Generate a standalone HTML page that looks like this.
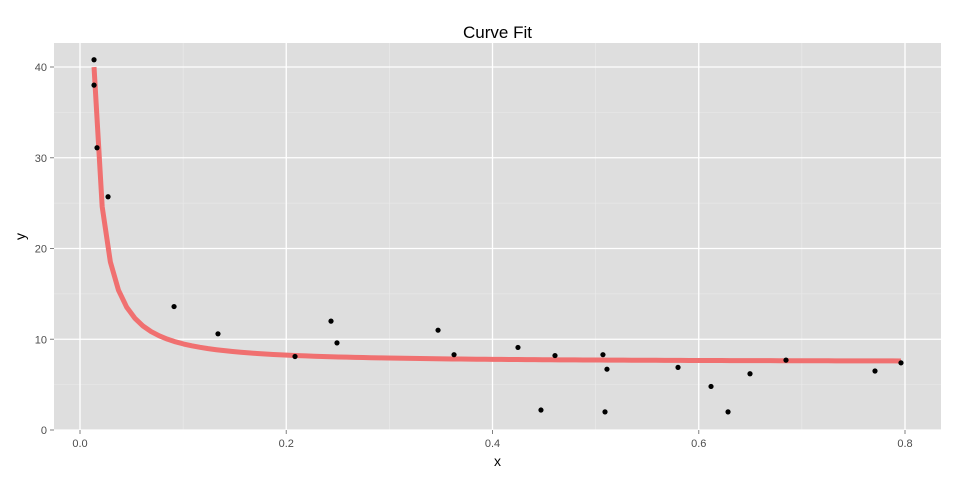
<!DOCTYPE html>
<html><head><meta charset="utf-8"><style>
html,body{margin:0;padding:0;background:#fff;width:960px;height:480px;overflow:hidden}
text{font-family:"Liberation Sans",sans-serif}
</style></head><body>
<svg id="chart" width="960" height="480"></svg>
<script>
const xs=[0.0136,0.0136,0.0165,0.0272,0.0912,0.1338,0.2085,0.2434,0.2492,0.3472,0.3627,0.4247,0.4470,0.4606,0.5071,0.5110,0.5091,0.5799,0.6119,0.6284,0.6497,0.6846,0.7709,0.7961];
const ys=[40.8,38.0,31.1,25.7,13.6,10.6,8.1,12.0,9.6,11.0,8.3,9.1,2.2,8.2,8.3,6.7,2.0,6.9,4.8,2.0,6.2,7.7,6.5,7.4];
const fitParams=[7.5,0.0792,1.4];
const xTicks=[0,0.2,0.4,0.6,0.8];
const xTickLabels=["0.0","0.2","0.4","0.6","0.8"];
const yTicks=[0,10,20,30,40];
const yTickLabels=["0","10","20","30","40"];
const xMinor=[0.1,0.3,0.5,0.7];
const yMinor=[5,15,25,35];

const NS="http://www.w3.org/2000/svg";
const svg=document.getElementById('chart');
const L=54,R=941,T=43,B=430;
const sx=v=>80+v*(905-80)/0.8;
const sy=v=>430-v*(430-67)/40;
function mk(tag,attrs,parent){const e=document.createElementNS(NS,tag);for(const k in attrs)e.setAttribute(k,attrs[k]);(parent||svg).appendChild(e);return e;}

const panel=mk('rect',{x:L,y:T,width:R-L,height:B-T,fill:'#dedede'});



const grid=mk('g',{});


xMinor.forEach(v=>mk('line',{x1:sx(v),x2:sx(v),y1:T,y2:B,stroke:'#ebebeb','stroke-width':0.6},grid));
yMinor.forEach(v=>mk('line',{x1:L,x2:R,y1:sy(v),y2:sy(v),stroke:'#ebebeb','stroke-width':0.6},grid));
xTicks.forEach(v=>mk('line',{x1:sx(v),x2:sx(v),y1:T,y2:B,stroke:'#fff','stroke-width':1.3},grid));
yTicks.forEach(v=>mk('line',{x1:L,x2:R,y1:sy(v),y2:sy(v),stroke:'#fff','stroke-width':1.3},grid));

const xAxis=mk('g',{});


xTicks.forEach((v,i)=>{
  mk('line',{x1:sx(v),x2:sx(v),y1:B,y2:B+4,stroke:'#7f7f7f','stroke-width':1},xAxis);
  const t=mk('text',{x:sx(v),y:B+17,'text-anchor':'middle','font-size':11,fill:'#4d4d4d'},xAxis);
  t.textContent=xTickLabels[i];
  
  
});
const yAxis=mk('g',{});


yTicks.forEach((v,i)=>{
  mk('line',{x1:L-4,x2:L,y1:sy(v),y2:sy(v),stroke:'#7f7f7f','stroke-width':1},yAxis);
  const t=mk('text',{x:L-7,y:sy(v)+4,'text-anchor':'end','font-size':11,fill:'#4d4d4d'},yAxis);
  t.textContent=yTickLabels[i];
  
  
});

const curve=[];
const x0=Math.min(...xs),x1=Math.max(...xs);
for(let i=0;i<100;i++){const x=x0+(x1-x0)*i/99;const y=fitParams[0]+fitParams[1]*Math.pow(x,-fitParams[2]);curve.push(sx(x).toFixed(2)+','+sy(y).toFixed(2));}
const line=mk('polyline',{points:curve.join(' '),fill:'none',stroke:'#f07070','stroke-width':5,'stroke-linejoin':'round'});



const pts=mk('g',{});


xs.forEach((x,i)=>{
  const c=mk('circle',{cx:sx(x),cy:sy(ys[i]),r:2.6,fill:'#000'},pts);
  
  
});

const title=mk('text',{x:(L+R)/2,y:38,'text-anchor':'middle','font-size':17,fill:'#000'});
title.textContent='Curve Fit';


const xt=mk('text',{x:(L+R)/2,y:466,'text-anchor':'middle','font-size':14,fill:'#000'});
xt.textContent='x';


const yt=mk('text',{x:25,y:(T+B)/2,'text-anchor':'middle','font-size':14,fill:'#000',transform:'rotate(-90 25 '+((T+B)/2)+')'});
yt.textContent='y';


</script>
</body></html>
